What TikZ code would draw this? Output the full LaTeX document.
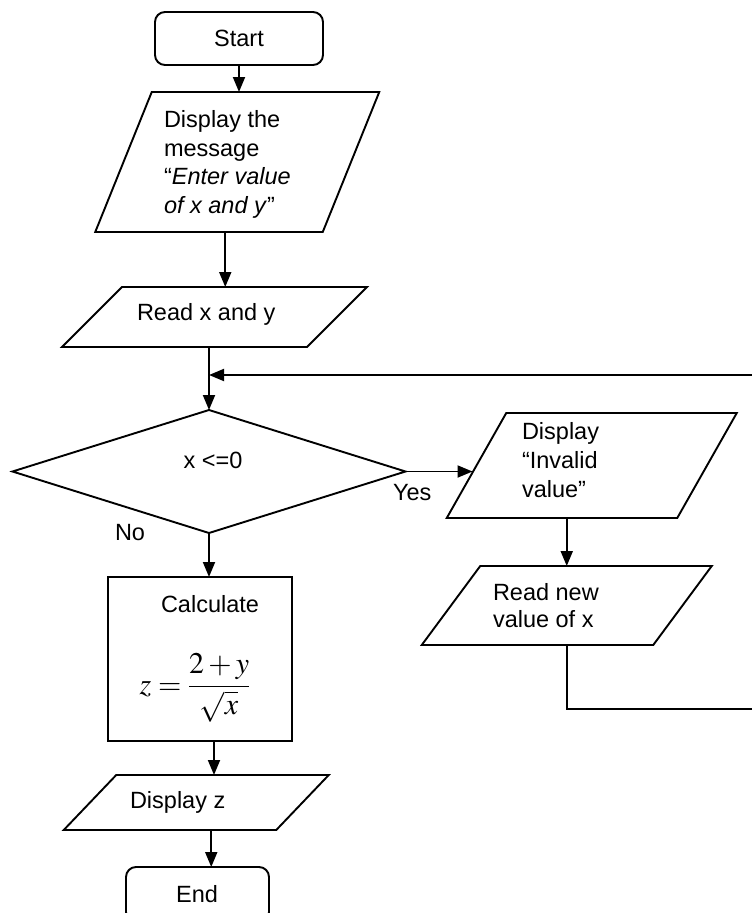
\documentclass[tikz,border=0pt]{standalone}
\usepackage{mathptmx}
\usepackage[no-math]{fontspec}
\setmainfont{Liberation Sans}
\usetikzlibrary{arrows.meta,shapes.geometric,calc}
\tikzset{
  ln/.style={line width=1.9pt, line join=miter},
  arr/.style={ln, -{Triangle[length=15pt,width=12pt]}},
  shapebox/.style={rectangle, inner sep=0pt, outer sep=0pt, draw=none},
  term/.style={ln, draw, rectangle, rounded corners=10pt, inner sep=0pt, outer sep=0pt,
               font=\fontsize{23.5}{28.5}\selectfont},
  txt/.style={inner sep=0pt, outer sep=0pt, align=left, font=\fontsize{23.5}{28.5}\selectfont},
}
\newcommand{\pgram}[6]{%
  \node[shapebox, minimum width=#4pt, minimum height=#5pt] (#1) at (#2,#3) {};
  \draw[ln] ($(#1.north west)+(#6/2,0)$) -- ($(#1.north east)+(#6/2,0)$)
     -- ($(#1.south east)-(#6/2,0)$) -- ($(#1.south west)-(#6/2,0)$) -- cycle;
}
\begin{document}
\begin{tikzpicture}[x=1pt,y=-1pt]
\useasboundingbox (0,0) rectangle (752,913);
\clip (0,0) rectangle (752,913);

% terminals
\node[term, minimum width=168pt, minimum height=53pt] (start) at (239,38.5) {Start};
\node[term, minimum width=143pt, minimum height=55pt] (end) at (197.5,894.5) {};
\node[txt, anchor=base] (endt) at (197,902) {End};

% parallelograms
\pgram{p1}{237.25}{162}{227.5}{140}{56.5}
\node[txt, anchor=base west] (p1t) at (164,213)
  {Display the\\message\\“\textit{Enter value}\\\textit{of x and y}”};

\pgram{rd}{214.5}{317}{245}{60}{60}
\node[txt, anchor=base west] (rdt) at (137,320) {Read x and y};

\pgram{di}{591.75}{465.5}{230.5}{105}{59.5}
\node[txt, anchor=base west, font=\fontsize{23.5}{29}\selectfont] (dit) at (522,497)
  {Display\\“Invalid\\value”};

\pgram{rn}{566.75}{605.5}{231.5}{79}{58.5}
\node[txt, anchor=base west, font=\fontsize{23.5}{27}\selectfont] (rnt) at (493,627)
  {Read new\\value of x};

\pgram{dz}{196.25}{802.5}{212.5}{55}{52.5}
\node[txt, anchor=base west] (dzt) at (130,808) {Display z};

% decision
\node[ln, draw, diamond, minimum width=393pt, minimum height=123pt,
      inner sep=0pt, outer sep=0pt] (d) at (209,471.5) {};
\node[txt, anchor=base] (dt) at (213,468) {x <=0};
\node[txt, anchor=base west] (yes) at (393,500) {Yes};
\node[txt, anchor=base west] (no) at (115,540) {No};

% process
\node[ln, draw, rectangle, minimum width=184pt, minimum height=164pt,
      inner sep=0pt, outer sep=0pt] (calc) at (200,659) {};
\node[txt, anchor=base] (calct) at (210,612) {Calculate};
\node[inner sep=0pt, anchor=base, font=\fontsize{30}{34}\selectfont] (formula) at (195,694)
  {$\displaystyle z=\frac{2+y}{\sqrt{x}}$};

% connectors
\draw[arr] (start.south) -- (start.south |- p1.north);
\draw[arr] ([xshift=-12pt]p1.south) -- ([xshift=-12pt]p1.south |- rd.north);
\draw[arr] (rd.south -| d.north) -- (d.north);
\draw[arr] (d.east) -- ([xshift=-4pt]di.west |- d.east);
\draw[arr] (rn.north |- di.south) -- (rn.north);
\draw[arr] (d.south) -- (d.south |- calc.north);
\draw[arr] ([xshift=14pt]calc.south) -- ([xshift=14pt]calc.south |- dz.north);
\draw[arr] ([xshift=15pt]dz.south) -- ([xshift=15pt]dz.south |- end.north);

% loop back
\coordinate (b1) at (775,709);
\coordinate (j) at (209,375);
\draw[arr] (rn.south) |- (b1) |- (j);
\end{tikzpicture}
\end{document}
